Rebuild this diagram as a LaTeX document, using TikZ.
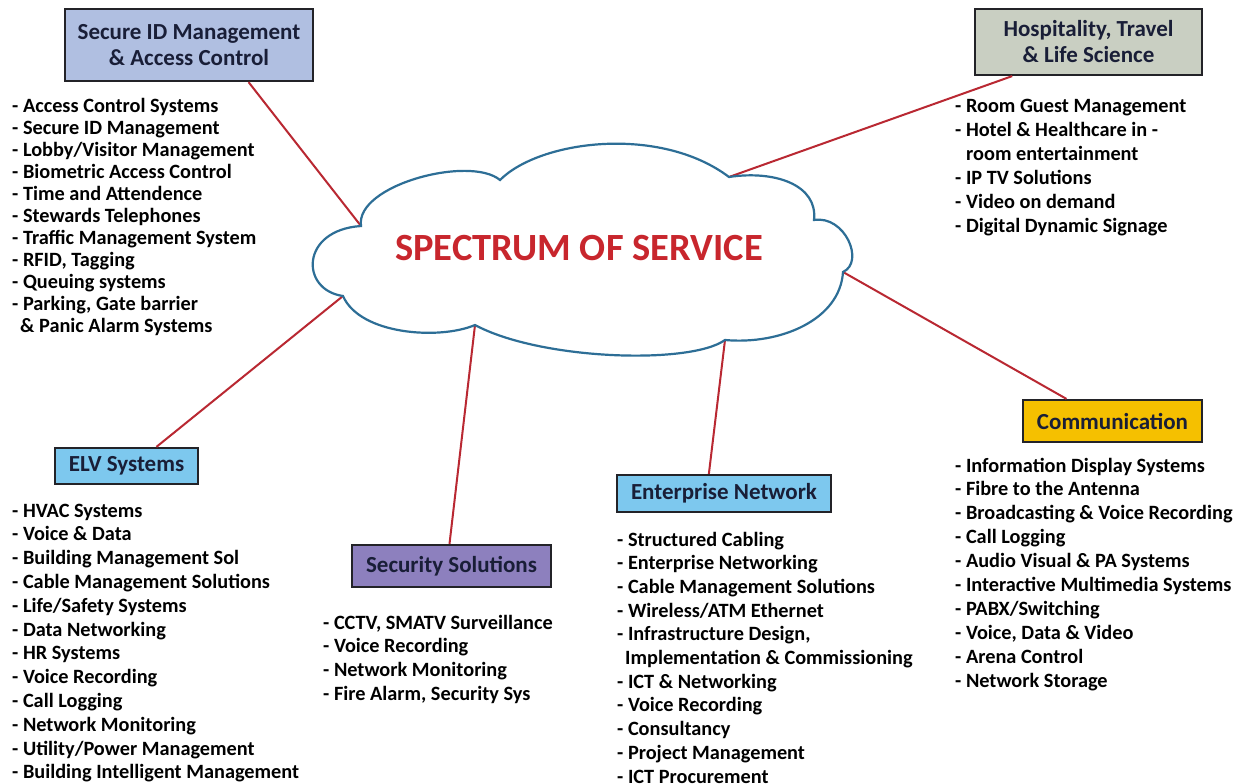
\documentclass[tikz,border=0pt]{standalone}
\usepackage{fontspec}
\setmainfont{Carlito}
\usetikzlibrary{calc}
\definecolor{boxline}{RGB}{35,35,40}
\definecolor{boxtext}{RGB}{25,30,55}
\definecolor{linkred}{RGB}{185,40,50}
\definecolor{cloudline}{RGB}{45,110,150}
\definecolor{titlered}{RGB}{200,38,45}
\definecolor{securefill}{RGB}{176,191,225}
\definecolor{hospfill}{RGB}{201,207,194}
\definecolor{skyfill}{RGB}{125,200,238}
\definecolor{purplefill}{RGB}{141,128,190}
\definecolor{goldfill}{RGB}{245,192,0}
\begin{document}
\begin{tikzpicture}[x=1pt,y=-1pt,
  box/.style={draw=boxline, line width=2.2pt, inner sep=0pt, align=center,
    font=\fontsize{23}{26}\selectfont\bfseries, text=boxtext},
  item/.style={anchor=base west, inner sep=0pt,
    font=\fontsize{20.3}{24}\selectfont\bfseries, text=black},
  link/.style={draw=linkred, line width=2pt},
  cloudshape/.style={draw=cloudline, line width=2.2pt, fill=white},
  titletext/.style={font=\fontsize{38.5}{42}\selectfont\bfseries, text=titlered}]
\useasboundingbox (0,0) rectangle (1248,784);
\fill[white] (0,0) rectangle (1248,784);

% boxes
\node[box, fill=securefill, minimum width=248, minimum height=72] (secure) at (189,45) {Secure ID Management\\\& Access Control};
\node[box, fill=hospfill, minimum width=227, minimum height=66] (hosp) at (1088.5,42) {Hospitality, Travel\\\& Life Science};
\node[box, fill=skyfill, minimum width=143, minimum height=36] (elv) at (126.5,466) {ELV Systems};
\node[box, fill=purplefill, minimum width=199, minimum height=42] (secsol) at (451.5,566) {Security Solutions};
\node[box, fill=skyfill, minimum width=214, minimum height=37] (ent) at (724,493.5) {Enterprise Network};
\node[box, fill=goldfill, minimum width=179, minimum height=42] (comm) at (1112.5,421) {Communication};

% cloud cusps
\coordinate (cA) at (361,226);
\coordinate (cB) at (500,180);
\coordinate (cC) at (729,177);
\coordinate (cD) at (814,220);
\coordinate (cE) at (843,272);
\coordinate (cF) at (725,340);
\coordinate (cG) at (475,325);
\coordinate (cH) at (343,296);

% connectors
\draw[link] ($(secure.south west)!0.738!(secure.south east)$) -- (cA);
\draw[link] ($(hosp.south west)!0.167!(hosp.south east)$) -- (cC);
\draw[link] ($(elv.north west)!0.706!(elv.north east)$) -- (cH);
\draw[link] ($(secsol.north west)!0.49!(secsol.north east)$) -- (cG);
\draw[link] ($(ent.north west)!0.43!(ent.north east)$) -- (cF);
\draw[link] ($(comm.north west)!0.246!(comm.north east)$) -- (cE);

% cloud
\draw[cloudshape] (cA) .. controls (355,185) and (470,155) .. (cB)
  .. controls (540,140) and (660,125) .. (cC)
  .. controls (775,170) and (818,185) .. (cD)
  .. controls (845,215) and (865,262) .. (cE)
  .. controls (840,320) and (780,345) .. (cF)
  .. controls (690,365) and (540,360) .. (cG)
  .. controls (440,340) and (360,335) .. (cH)
  .. controls (300,290) and (300,230) .. cycle;
\node[titletext] (spectrum) at (579,248) {SPECTRUM OF SERVICE};

% lists
\foreach \t [count=\i] in {{- Access Control Systems},{- Secure ID Management},{- Lobby/Visitor Management},{- Biometric Access Control},{- Time and Attendence},{- Stewards Telephones},{- Traffic Management System},{- RFID, Tagging},{- Queuing systems},{- Parking, Gate barrier},{\hspace{8pt}\& Panic Alarm Systems}}
  \node[item] (seclist\i) at (12,{113+(\i-1)*21.9}) {\t};

\foreach \t [count=\i] in {{- Room Guest Management},{- Hotel \& Healthcare in -},{\hspace{11pt}room entertainment},{- IP TV Solutions},{- Video on demand},{- Digital Dynamic Signage}}
  \node[item] (hosplist\i) at (955,{113+(\i-1)*23.8}) {\t};

\foreach \t [count=\i] in {{- HVAC Systems},{- Voice \& Data},{- Building Management Sol},{- Cable Management Solutions},{- Life/Safety Systems},{- Data Networking},{- HR Systems},{- Voice Recording},{- Call Logging},{- Network Monitoring},{- Utility/Power Management},{- Building Intelligent Management}}
  \node[item] (elvlist\i) at (12,{517+(\i-1)*23.8}) {\t};

\foreach \t [count=\i] in {{- CCTV, SMATV Surveillance},{- Voice Recording},{- Network Monitoring},{- Fire Alarm, Security Sys}}
  \node[item] (seclst\i) at (323,{629+(\i-1)*23.7}) {\t};

\foreach \t [count=\i] in {{- Structured Cabling},{- Enterprise Networking},{- Cable Management Solutions},{- Wireless/ATM Ethernet},{- Infrastructure Design,},{\hspace{8pt}Implementation \& Commissioning},{- ICT \& Networking},{- Voice Recording},{- Consultancy},{- Project Management},{- ICT Procurement}}
  \node[item] (entlist\i) at (617,{546+(\i-1)*23.7}) {\t};

\foreach \t [count=\i] in {{- Information Display Systems},{- Fibre to the Antenna},{- Broadcasting \& Voice Recording},{- Call Logging},{- Audio Visual \& PA Systems},{- Interactive Multimedia Systems},{- PABX/Switching},{- Voice, Data \& Video},{- Arena Control},{- Network Storage}}
  \node[item] (commlist\i) at (955,{472+(\i-1)*23.9}) {\t};
\end{tikzpicture}
\end{document}
